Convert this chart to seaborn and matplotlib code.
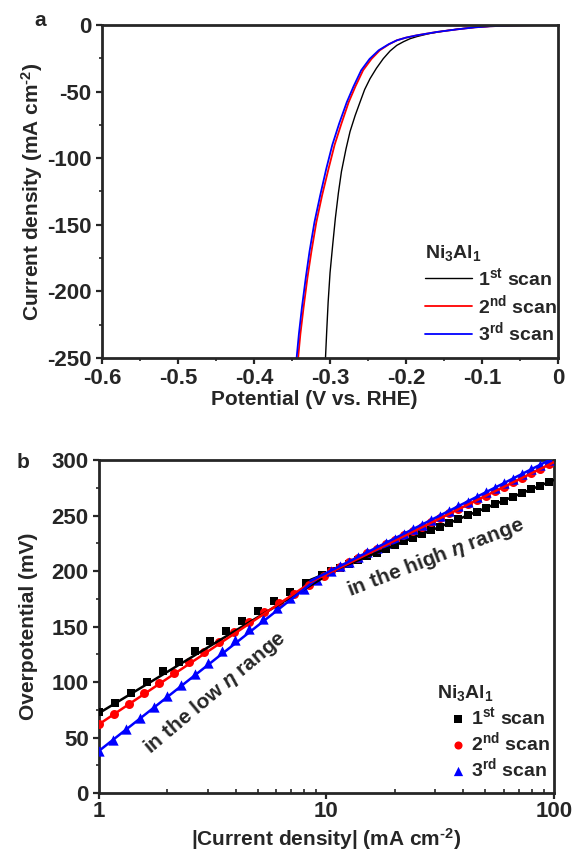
import numpy as np
import pandas as pd
import matplotlib
matplotlib.use("Agg")
import matplotlib.pyplot as plt
from matplotlib.ticker import MultipleLocator, LogLocator, NullFormatter, FixedLocator
import seaborn as sns

# ---------------- panel a: polarization curves (V vs. RHE, mA cm^-2) ----------------
scan1_potential = [0.0, -0.03, -0.06, -0.09, -0.11, -0.13, -0.15, -0.17, -0.185, -0.1947, -0.2035,
                   -0.2122, -0.221, -0.23, -0.239, -0.2474, -0.2545, -0.2605, -0.267, -0.2737, -0.279,
                   -0.285, -0.289, -0.293, -0.2965, -0.300, -0.3025, -0.3044, -0.306]
scan1_current = [0.0, -0.1, -0.4, -1.0, -1.8, -3.0, -4.5, -6.5, -8.6, -10.3, -12.6,
                 -15.3, -19.5, -25.3, -32.5, -40.3, -48.5, -57.8, -68.0, -80.0, -93.0,
                 -110.0, -126.0, -145.0, -165.0, -186.0, -208.0, -230.0, -250.0]

scan2_potential = [0.0, -0.03, -0.06, -0.09, -0.11, -0.133, -0.16, -0.186, -0.2, -0.212, -0.2225,
                   -0.2345, -0.2455, -0.2565, -0.2665, -0.2755, -0.285, -0.294, -0.302, -0.3105, -0.318,
                   -0.3245, -0.3298, -0.3348, -0.339, -0.342]
scan2_current = [0.0, -0.1, -0.4, -1.0, -1.8, -3.3, -5.3, -7.8, -9.5, -11.5, -14.5,
                 -19.0, -25.5, -34.0, -46.0, -58.0, -74.0, -90.0, -108.0, -128.0, -148.0,
                 -170.0, -190.0, -212.0, -232.0, -250.0]

scan3_potential = [0.0, -0.03, -0.06, -0.09, -0.11, -0.133, -0.16, -0.186, -0.2, -0.212, -0.223,
                   -0.236, -0.248, -0.259, -0.269, -0.278, -0.288, -0.297, -0.305, -0.313, -0.3205,
                   -0.327, -0.332, -0.337, -0.341, -0.344]
scan3_current = [0.0, -0.1, -0.4, -1.0, -1.8, -3.3, -5.3, -7.8, -9.5, -11.5, -14.5,
                 -19.0, -25.5, -34.0, -46.0, -58.0, -74.0, -90.0, -108.0, -128.0, -148.0,
                 -170.0, -190.0, -212.0, -232.0, -250.0]

# ---------------- panel b: Tafel data (|j| in mA cm^-2, overpotential in mV) ----------------
tafel1_j = [1.00, 1.17, 1.38, 1.62, 1.91, 2.24, 2.63, 3.09, 3.63, 4.27, 5.01, 5.89, 6.92, 8.13, 9.55,
            10.5, 11.5, 12.6, 13.8, 15.1, 16.6, 18.2, 20.0, 21.9, 24.0, 26.3, 28.8, 31.6, 34.7,
            38.0, 41.7, 45.7, 50.1, 55.0, 60.3, 66.1, 72.4, 79.4, 87.1, 95.5]
tafel1_eta = [73.0, 81.0, 90.5, 100.0, 109.5, 118.0, 127.5, 137.0, 146.0, 155.0, 164.0, 173.0, 181.5, 189.0, 196.0,
              199.7, 203.0, 206.4, 209.8, 213.1, 216.5, 219.8, 223.2, 226.6, 229.9, 233.3, 236.6, 240.0, 243.4,
              246.7, 250.1, 253.4, 256.8, 260.2, 263.5, 266.9, 270.2, 273.6, 277.0, 280.3]

tafel2_j = [1.00, 1.16, 1.36, 1.58, 1.84, 2.14, 2.49, 2.90, 3.37, 3.93, 4.57, 5.32, 6.19, 7.21, 8.39, 9.77,
            10.5, 11.5, 12.6, 13.8, 15.1, 16.6, 18.2, 20.0, 21.9, 24.0, 26.3, 28.8, 31.6, 34.7,
            38.0, 41.7, 45.7, 50.1, 55.0, 60.3, 66.1, 72.4, 79.4, 87.1, 95.5]
tafel2_eta = [62.0, 71.3, 80.6, 89.9, 99.2, 108.5, 117.8, 127.1, 136.2, 145.2, 154.0, 162.7, 171.2, 179.5, 187.5, 195.5,
              200.0, 204.0, 208.0, 212.0, 216.0, 220.0, 224.0, 228.0, 232.0, 236.0, 240.0, 244.0, 248.0, 252.0,
              256.0, 260.0, 264.0, 268.0, 272.0, 276.0, 280.0, 284.0, 288.0, 292.0, 296.0]

tafel3_j = [1.00, 1.15, 1.32, 1.51, 1.74, 2.00, 2.29, 2.63, 3.02, 3.47, 3.98, 4.57, 5.25, 6.03, 6.92, 7.94, 9.12,
            10.5, 11.5, 12.6, 13.8, 15.1, 16.6, 18.2, 20.0, 21.9, 24.0, 26.3, 28.8, 31.6, 34.7,
            38.0, 41.7, 45.7, 50.1, 55.0, 60.3, 66.1, 72.4, 79.4, 87.1, 95.5]
tafel3_eta = [38.0, 48.0, 58.0, 67.5, 77.5, 87.5, 97.5, 107.5, 117.5, 127.5, 137.5, 147.5, 157.0, 166.5, 175.5, 184.0, 192.0,
              200.1, 204.2, 208.4, 212.6, 216.7, 220.9, 225.0, 229.2, 233.4, 237.5, 241.7, 245.8, 250.0, 254.2,
              258.3, 262.5, 266.6, 270.8, 275.0, 279.1, 283.3, 287.4, 291.6, 295.8, 299.9]

# linear Tafel fits: low-overpotential and high-overpotential segments
fit_low_j = [1.0, 9.5]
fit_low_eta1 = [72.0, 193.0]
fit_low_eta2 = [62.0, 196.0]
fit_low_eta3 = [38.0, 196.0]
fit_high_j = [8.5, 100.0]
fit_high_eta1 = [192.0, 282.0]
fit_high_eta2 = [190.0, 298.0]
fit_high_eta3 = [191.0, 302.0]

scan_labels = ["1$^{\\mathrm{st}}$ scan", "2$^{\\mathrm{nd}}$ scan", "3$^{\\mathrm{rd}}$ scan"]
scan_colors = ["#000000", "#ff0000", "#0000ff"]
sample_name = "Ni$_{3}$Al$_{1}$"
unit_label = "(mA cm$^{\\text{-}2}$)"

sns.set_style("ticks")
plt.rcParams["font.family"] = ["Liberation Sans", "DejaVu Sans"]
plt.rcParams["font.weight"] = "bold"
plt.rcParams["mathtext.fontset"] = "custom"
plt.rcParams["mathtext.rm"] = "Liberation Sans:bold"
plt.rcParams["mathtext.bf"] = "Liberation Sans:bold"
plt.rcParams["mathtext.it"] = "Liberation Sans:italic:bold"
plt.rcParams["axes.linewidth"] = 2.0
plt.rcParams["axes.unicode_minus"] = False

FS = 15       # axis labels, annotations
FS_TICK = 16  # tick labels
FS_LEG = 14   # legend entries

fig = plt.figure(figsize=(5.73, 8.52), dpi=100)
ax_a = fig.add_axes([0.178, 0.5798, 0.796, 0.3909])
ax_b = fig.add_axes([0.1728, 0.0692, 0.794, 0.3909])

# ---------- panel a ----------
lsv_frames = [
    pd.DataFrame({"E": scan1_potential, "j": scan1_current}),
    pd.DataFrame({"E": scan2_potential, "j": scan2_current}),
    pd.DataFrame({"E": scan3_potential, "j": scan3_current}),
]
lsv_widths = [1.0, 1.3, 1.3]
for df, col, lab, lw in zip(lsv_frames, scan_colors, scan_labels, lsv_widths):
    sns.lineplot(data=df, x="E", y="j", sort=False, color=col, lw=lw, label=lab, ax=ax_a)

ax_a.set_xlim(-0.6, 0.0)
ax_a.set_ylim(-250, 0)
ax_a.xaxis.set_minor_locator(MultipleLocator(0.05))
ax_a.yaxis.set_major_locator(MultipleLocator(50))
ax_a.yaxis.set_minor_locator(MultipleLocator(25))
ax_a.set_xticks(np.round(np.arange(-0.6, 0.01, 0.1), 1))
ax_a.set_xticklabels(["-0.6", "-0.5", "-0.4", "-0.3", "-0.2", "-0.1", "0"])
ax_a.set_xlabel("Potential (V vs. RHE)", fontsize=FS, fontweight="bold")
ax_a.set_ylabel("Current density " + unit_label, fontsize=FS, fontweight="bold")
ax_a.xaxis.set_label_coords(0.465, -0.096)
ax_a.yaxis.set_label_coords(-0.124, 0.5)

leg_a = ax_a.legend(title=sample_name, loc="upper left", bbox_to_anchor=(0.708, 0.345),
                    frameon=False, fontsize=FS_LEG, title_fontsize=FS_LEG, handlelength=2.4,
                    handletextpad=0.35, labelspacing=0.2, alignment="left",
                    borderaxespad=0.0, borderpad=0.0)
for t in leg_a.get_texts():
    t.set_fontweight("bold")
leg_a.get_title().set_fontweight("bold")

# ---------- panel b ----------
tafel_frames = [
    pd.DataFrame({"j": tafel1_j, "eta": tafel1_eta}),
    pd.DataFrame({"j": tafel2_j, "eta": tafel2_eta}),
    pd.DataFrame({"j": tafel3_j, "eta": tafel3_eta}),
]
marker_styles = ["s", "o", "^"]
marker_sizes = [38, 42, 55]
for df, col, lab, mk, ms in zip(tafel_frames, scan_colors, scan_labels, marker_styles, marker_sizes):
    sns.scatterplot(data=df, x="j", y="eta", color=col, marker=mk, s=ms, linewidth=0,
                    label=lab, ax=ax_b, zorder=3)

fit_lines = [
    (fit_low_j, fit_low_eta1, scan_colors[0]),
    (fit_low_j, fit_low_eta2, scan_colors[1]),
    (fit_low_j, fit_low_eta3, scan_colors[2]),
    (fit_high_j, fit_high_eta1, scan_colors[0]),
    (fit_high_j, fit_high_eta2, scan_colors[1]),
    (fit_high_j, fit_high_eta3, scan_colors[2]),
]
for jx, ey, col in fit_lines:
    sns.lineplot(x=jx, y=ey, color=col, lw=1.8, ax=ax_b, zorder=4, legend=False)

ax_b.set_xscale("log")
ax_b.set_xlim(1, 100)
ax_b.set_ylim(0, 300)
ax_b.xaxis.set_major_locator(FixedLocator([1, 10, 100]))
ax_b.set_xticklabels(["1", "10", "100"])
ax_b.xaxis.set_minor_locator(LogLocator(base=10, subs=np.arange(2, 10)))
ax_b.xaxis.set_minor_formatter(NullFormatter())
ax_b.yaxis.set_major_locator(MultipleLocator(50))
ax_b.yaxis.set_minor_locator(MultipleLocator(25))
ax_b.set_xlabel("|Current density| " + unit_label, fontsize=FS, fontweight="bold")
ax_b.set_ylabel("Overpotential (mV)", fontsize=FS, fontweight="bold")
ax_b.xaxis.set_label_coords(0.5, -0.1)
ax_b.yaxis.set_label_coords(-0.135, 0.5)

ax_b.text(3.23, 90, "in the low $\\eta$ range", rotation=40, rotation_mode="anchor",
          ha="center", va="center", fontsize=FS, fontweight="bold")
ax_b.text(30.3, 212, "in the high $\\eta$ range", rotation=21, rotation_mode="anchor",
          ha="center", va="center", fontsize=FS, fontweight="bold")

ax_b.text(0.743, 0.30, sample_name, transform=ax_b.transAxes, ha="left", va="center",
          fontsize=FS_LEG, fontweight="bold")
leg_b = ax_b.legend(loc="upper left", bbox_to_anchor=(0.768, 0.262),
                    frameon=False, fontsize=FS_LEG, handlelength=1.0,
                    handletextpad=0.15, labelspacing=0.12,
                    borderaxespad=0.0, borderpad=0.0, markerscale=0.9)
for t in leg_b.get_texts():
    t.set_fontweight("bold")

for ax in (ax_a, ax_b):
    ax.tick_params(axis="both", which="major", direction="out", length=4.5, width=1.6,
                   labelsize=FS_TICK, pad=3)
    ax.tick_params(axis="both", which="minor", direction="out", length=2.5, width=1.2)
    for lab in ax.get_xticklabels() + ax.get_yticklabels():
        lab.set_fontweight("bold")
    for sp in ax.spines.values():
        sp.set_visible(True)
        sp.set_linewidth(2.0)
ax_b.tick_params(axis="x", which="major", pad=1.5)
ax_b.tick_params(axis="x", which="minor", direction="in", length=3)

fig.text(40 / 573, 1 - 20 / 852, "a", fontsize=FS, fontweight="bold", ha="center", va="center")
fig.text(23 / 573, 1 - 462 / 852, "b", fontsize=FS, fontweight="bold", ha="center", va="center")

fig.savefig("out.png", dpi=100)
